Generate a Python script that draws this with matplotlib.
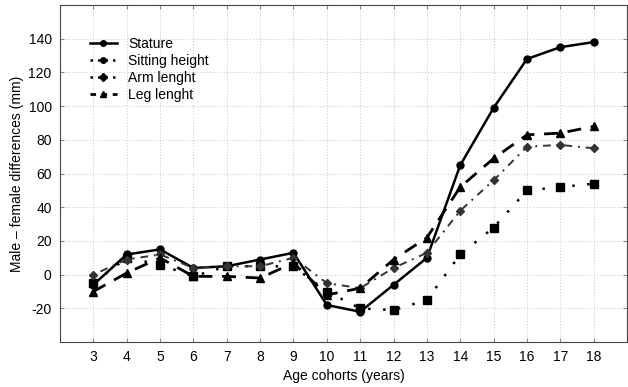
import matplotlib.pyplot as plt
from matplotlib.lines import Line2D

plt.rcParams['font.family'] = ['Liberation Sans', 'DejaVu Sans']
plt.rcParams['axes.unicode_minus'] = False

ages = [3, 4, 5, 6, 7, 8, 9, 10, 11, 12, 13, 14, 15, 16, 17, 18]
stature = [-6, 12, 15, 4, 5, 9, 13, -18, -22, -6, 10, 65, 99, 128, 135, 138]
sitting = [-5, 10, 6, -1, 5, 5, 5, -10, -20, -21, -15, 12, 28, 50, 52, 54]
arm = [0, 9, 12, 4, 5, 5, 10, -5, -8, 4, 13, 38, 56, 76, 77, 75]
leg = [-10, 1, 10, -1, -1, -2, 7, -12, -8, 9, 22, 52, 69, 83, 84, 88]

fig = plt.figure(figsize=(6.28, 3.87), dpi=100)
ax = fig.add_axes([0.0955, 0.116, 0.903, 0.871])

ax.plot(ages, stature, color='black', lw=1.8, marker='o', ms=5)
ax.plot(ages, sitting, color='black', lw=1.8, ls=(0, (1, 5)), marker='s', ms=5.5)
ax.plot(ages, arm, color='#333333', lw=1.4, ls=(0, (1, 3, 4, 3)), marker='D', ms=4.5)
ax.plot(ages, leg, color='black', lw=2, ls=(0, (5, 3.5)), marker='^', ms=6)

ax.set_xlim(2, 19)
ax.set_ylim(-40, 160)
ax.set_xticks(ages)
ax.set_yticks(range(-20, 141, 20))
ax.grid(True, color='#c4c4c4', ls=(0, (1, 2)), lw=0.7)
ax.tick_params(direction='in', top=True, right=True, labelsize=10, length=3,
               color='#888888', pad=6)
for s in ax.spines.values():
    s.set_color('#444444')

ax.set_xlabel('Age cohorts (years)', fontsize=10, labelpad=3)
ax.set_ylabel('Male \u2013 female differences (mm)', fontsize=10, labelpad=3)

# legend in the original shows a circle for sitting height although the plot uses squares
handles = [
    Line2D([], [], color='black', lw=1.8, marker='o', ms=4),
    Line2D([], [], color='black', lw=1.8, ls=(0, (1, 2)), marker='o', ms=4),
    Line2D([], [], color='black', lw=1.8, ls=(0, (1, 2)), marker='D', ms=4),
    Line2D([], [], color='black', lw=2, ls=(0, (2, 2)), marker='^', ms=5),
]
labels = ['Stature', 'Sitting height', 'Arm lenght', 'Leg lenght']
ax.legend(handles, labels, loc='upper left', bbox_to_anchor=(0.04, 0.925),
          frameon=False, fontsize=10, handlelength=2.0, handletextpad=0.8,
          labelspacing=0.2, borderpad=0)

fig.savefig('out.png', dpi=100)
